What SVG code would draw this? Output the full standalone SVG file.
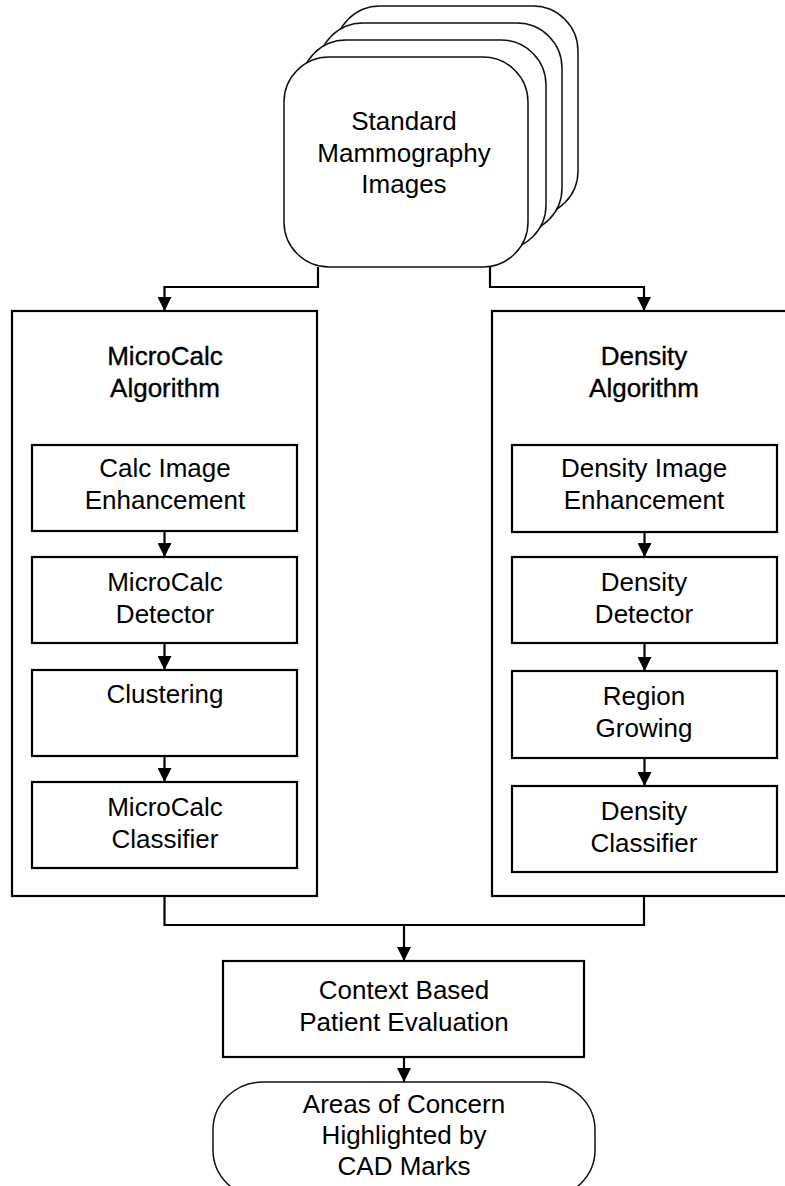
<svg xmlns="http://www.w3.org/2000/svg" width="785" height="1186" viewBox="0 0 785 1186">
<defs>
<style>
text{font-family:"Liberation Sans",Arial,sans-serif;font-size:26px;fill:#000;text-anchor:middle}
.title{stroke:#000;stroke-width:0.35px}
.box{fill:#fff;stroke:#000;stroke-width:2.2}
.card{fill:#fff;stroke:#111;stroke-width:1.5}
.conn{fill:none;stroke:#000;stroke-width:2.2}
</style>
<marker id="arr" markerUnits="userSpaceOnUse" markerWidth="14" markerHeight="14" viewBox="0 0 14 14" refX="14" refY="7" orient="auto">
<path d="M0,0 L14,7 L0,14 Z" fill="#000"/>
</marker>
</defs>
<rect width="785" height="1186" fill="#fff"/>

<g id="images">
<rect class="card" x="335" y="6" width="243" height="210" rx="45" ry="45"/>
<rect class="card" x="318" y="23" width="244" height="210" rx="45" ry="45"/>
<rect class="card" x="301" y="40" width="245" height="210" rx="45" ry="45"/>
<rect class="card" x="284" y="57" width="244" height="210" rx="45" ry="45"/>
<text x="404" y="130">Standard</text>
<text x="404" y="162">Mammography</text>
<text x="404" y="193">Images</text>
</g>

<g id="microcalc-algorithm">
<rect class="box" x="12" y="311" width="305" height="585"/>
<text class="title" x="165" y="365">MicroCalc</text>
<text class="title" x="165" y="397">Algorithm</text>
</g>
<g id="calc-enhancement">
<rect class="box" x="32" y="445" width="265" height="86"/>
<text x="165" y="477">Calc Image</text>
<text x="165" y="509">Enhancement</text>
</g>
<g id="microcalc-detector">
<rect class="box" x="32" y="557" width="265" height="86"/>
<text x="165" y="591">MicroCalc</text>
<text x="165" y="623">Detector</text>
</g>
<g id="clustering">
<rect class="box" x="32" y="670" width="265" height="86"/>
<text x="165" y="703">Clustering</text>
</g>
<g id="microcalc-classifier">
<rect class="box" x="32" y="782" width="265" height="86"/>
<text x="165" y="816">MicroCalc</text>
<text x="165" y="848">Classifier</text>
</g>

<g id="density-algorithm">
<rect class="box" x="492" y="311" width="310" height="585"/>
<text class="title" x="644" y="365">Density</text>
<text class="title" x="644" y="397">Algorithm</text>
</g>
<g id="density-enhancement">
<rect class="box" x="512" y="445" width="265" height="87"/>
<text x="644" y="477">Density Image</text>
<text x="644" y="509">Enhancement</text>
</g>
<g id="density-detector">
<rect class="box" x="512" y="557" width="265" height="86"/>
<text x="644" y="591">Density</text>
<text x="644" y="623">Detector</text>
</g>
<g id="region-growing">
<rect class="box" x="512" y="671" width="265" height="87"/>
<text x="644" y="705">Region</text>
<text x="644" y="737">Growing</text>
</g>
<g id="density-classifier">
<rect class="box" x="512" y="786" width="265" height="86"/>
<text x="644" y="820">Density</text>
<text x="644" y="852">Classifier</text>
</g>

<g id="context-evaluation">
<rect class="box" x="223" y="961" width="361" height="96"/>
<text x="404" y="999">Context Based</text>
<text x="404" y="1031">Patient Evaluation</text>
</g>

<g id="areas-of-concern">
<rect class="card" x="213" y="1082" width="382" height="116" rx="50" ry="48"/>
<text x="404" y="1113">Areas of Concern</text>
<text x="404" y="1144">Highlighted by</text>
<text x="404" y="1175">CAD Marks</text>
</g>

<g id="connectors">
<path class="conn" d="M318,267 V287 H164.5 V311" marker-end="url(#arr)"/>
<path class="conn" d="M490,267 V287 H644 V311" marker-end="url(#arr)"/>
<path class="conn" d="M164.5,531 V557" marker-end="url(#arr)"/>
<path class="conn" d="M164.5,643 V670" marker-end="url(#arr)"/>
<path class="conn" d="M164.5,756 V782" marker-end="url(#arr)"/>
<path class="conn" d="M644.5,532 V557" marker-end="url(#arr)"/>
<path class="conn" d="M644.5,643 V671" marker-end="url(#arr)"/>
<path class="conn" d="M644.5,758 V786" marker-end="url(#arr)"/>
<path class="conn" d="M164.5,896 V925 H644 V896"/>
<path class="conn" d="M404,925 V961" marker-end="url(#arr)"/>
<path class="conn" d="M404,1057 V1082" marker-end="url(#arr)"/>
</g>
</svg>
